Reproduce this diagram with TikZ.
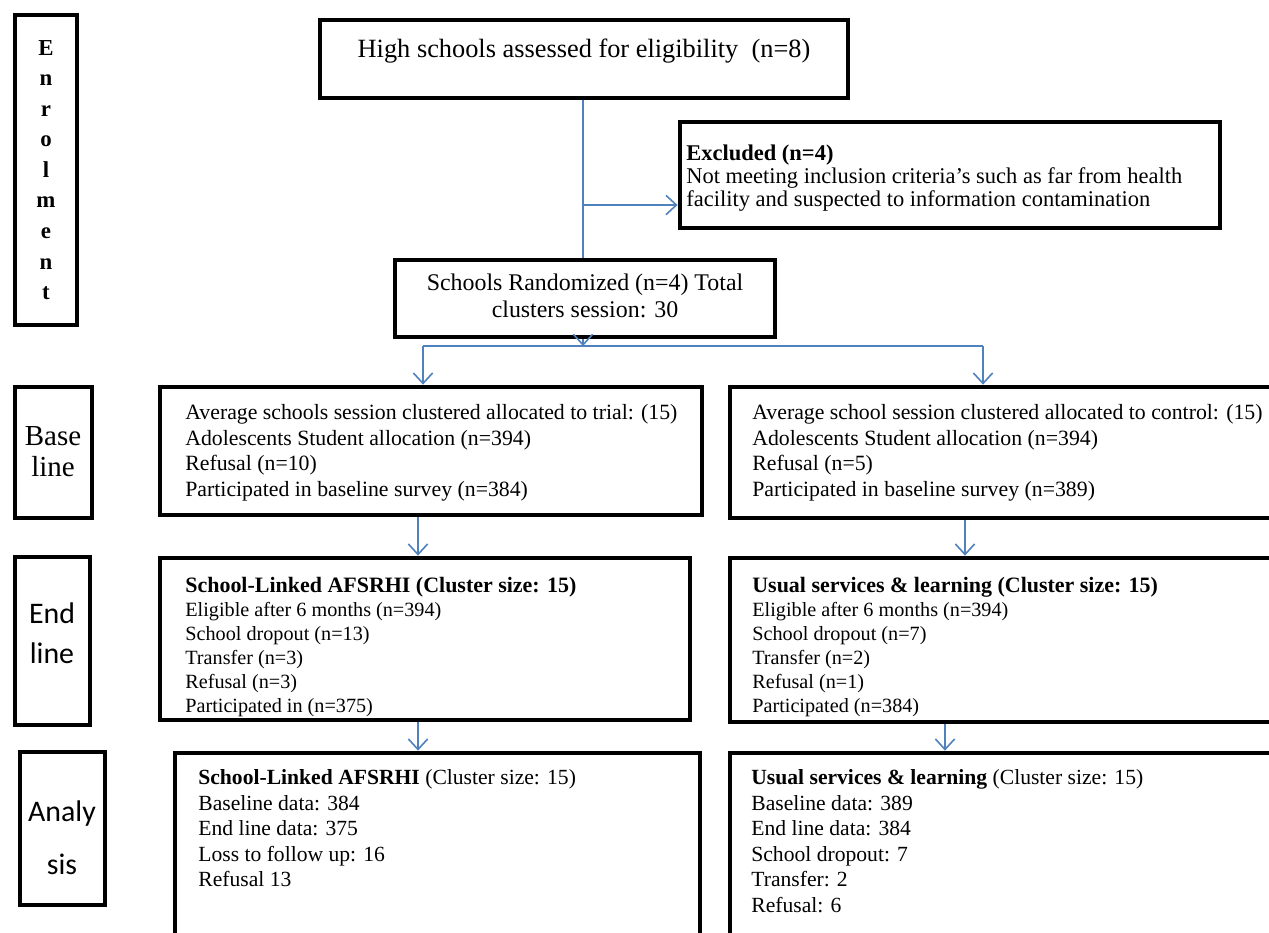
\documentclass[tikz,border=0pt]{standalone}
\usepackage{fontspec}
\setmainfont{Liberation Serif}
\newfontfamily\calfont{Carlito}
\usetikzlibrary{arrows.meta,fit}
\definecolor{arr}{RGB}{79,129,189}
\tikzset{
  box/.style={draw=black, line width=2.7pt, inner sep=0pt},
  txt/.style={anchor=north west, align=left, inner sep=0pt},
  ctxt/.style={anchor=center, align=center, inner sep=0pt},
  conn/.style={draw=arr, line width=0.9pt},
  arw/.style={conn, -{Straight Barb[length=6pt,width=11pt,line width=0.9pt]}},
  fa/.style={font=\fontsize{12.4}{14.6}\selectfont},
  fb/.style={font=\fontsize{11.5}{13.6}\selectfont},
  fc/.style={font=\fontsize{12.3}{14.6}\selectfont},
}
\newcommand{\hd}[1]{{\fontsize{12.5}{13.6}\selectfont\bfseries #1}}
\begin{document}
\begin{tikzpicture}[x=0.02cm,y=-0.02cm]
\useasboundingbox[fill=white] (0,0) rectangle (1269,933);

% boxes
\node[box, fit={(15,15) (77,325)}] (enrol) {};
\node[box, fit={(320,20) (848,98)}] (hs) {};
\node[box, fit={(680,122) (1220,228)}] (excl) {};
\node[box, fit={(395,260) (775,337)}] (rand) {};
\node[box, fit={(15,387) (92,518)}] (baseL) {};
\node[box, fit={(160,387) (702,515)}] (bt) {};
\node[box, fit={(730,387) (1280,518)}] (bc) {};
\node[box, fit={(15,557) (90,725)}] (endL) {};
\node[box, fit={(160,558) (690,720)}] (et) {};
\node[box, fit={(730,558) (1280,722)}] (ec) {};
\node[box, fit={(20,752) (105,905)}] (anaL) {};
\node[box, fit={(175,753) (700,950)}] (at) {};
\node[box, fit={(730,753) (1280,950)}] (ac) {};

% texts
\node[ctxt, font=\bfseries\fontsize{13}{17.4}\selectfont] (enrolT) at (enrol.center) {E\\n\\r\\o\\l\\m\\e\\n\\t};
\node[ctxt, font=\fontsize{15}{16}\selectfont] (hsT) at (584,51) {High schools assessed for eligibility\ \ (n=8)};
\node[txt, font=\fontsize{12.8}{13.1}\selectfont] (exclT) at (686,145) {\textbf{Excluded (n=4)}\\Not meeting inclusion criteria’s such as far from health\\facility and suspected to information contamination};
\node[ctxt, font=\fontsize{13.6}{15.3}\selectfont] (randT) at (585,296) {Schools Randomized (n=4) Total\\clusters session: 30};
\node[ctxt, font=\fontsize{16.5}{17.6}\selectfont] (baseLT) at (53,452) {Base\\line};
\node[ctxt, font=\calfont\fontsize{17}{23}\selectfont] (endLT) at (52,633) {End\\line};
\node[ctxt, font=\calfont\fontsize{17}{30}\selectfont] (anaLT) at (62,838) {Analy\\sis};

\node[txt, fa] (btT) at (185,404) {Average schools session clustered allocated to trial: (15)\\Adolescents Student allocation (n=394)\\Refusal (n=10)\\Participated in baseline survey (n=384)};
\node[txt, fa] (bcT) at (752,404) {Average school session clustered allocated to control: (15)\\Adolescents Student allocation (n=394)\\Refusal (n=5)\\Participated in baseline survey (n=389)};
\node[txt, fb] (etT) at (185,577) {\hd{School-Linked AFSRHI (Cluster size: 15)}\\Eligible after 6 months (n=394)\\School dropout (n=13)\\Transfer (n=3)\\Refusal (n=3)\\Participated in (n=375)};
\node[txt, fb] (ecT) at (752,577) {\hd{Usual services \& learning (Cluster size: 15)}\\Eligible after 6 months (n=394)\\School dropout (n=7)\\Transfer (n=2)\\Refusal (n=1)\\Participated (n=384)};
\node[txt, fc] (atT) at (198,769) {\textbf{School-Linked AFSRHI} (Cluster size: 15)\\Baseline data: 384\\End line data: 375\\Loss to follow up: 16\\Refusal 13};
\node[txt, fc] (acT) at (751,769) {\textbf{Usual services \& learning} (Cluster size: 15)\\Baseline data: 389\\End line data: 384\\School dropout: 7\\Transfer: 2\\Refusal: 6};

% connectors
\coordinate (mx) at (583,0);
\coordinate (bj) at (583,205);
\coordinate (sp) at (583,346);
\coordinate (lx) at (423,346);
\coordinate (rx) at (983,346);
\coordinate (l2) at (418,0);
\coordinate (r2) at (965,0);
\coordinate (r3) at (945,0);

\draw[conn] (hs.south -| mx) -- (rand.north -| mx);
\draw[arw] (bj) -- (bj -| excl.west);
\draw[arw] (rand.south -| mx) -- (sp);
\draw[conn] (lx) -- (rx);
\draw[arw] (lx) -- (bt.north -| lx);
\draw[arw] (rx) -- (bc.north -| rx);
\draw[arw] (bt.south -| l2) -- (et.north -| l2);
\draw[arw] (bc.south -| r2) -- (ec.north -| r2);
\draw[arw] (et.south -| l2) -- (at.north -| l2);
\draw[arw] (ec.south -| r3) -- (ac.north -| r3);
\end{tikzpicture}
\end{document}
